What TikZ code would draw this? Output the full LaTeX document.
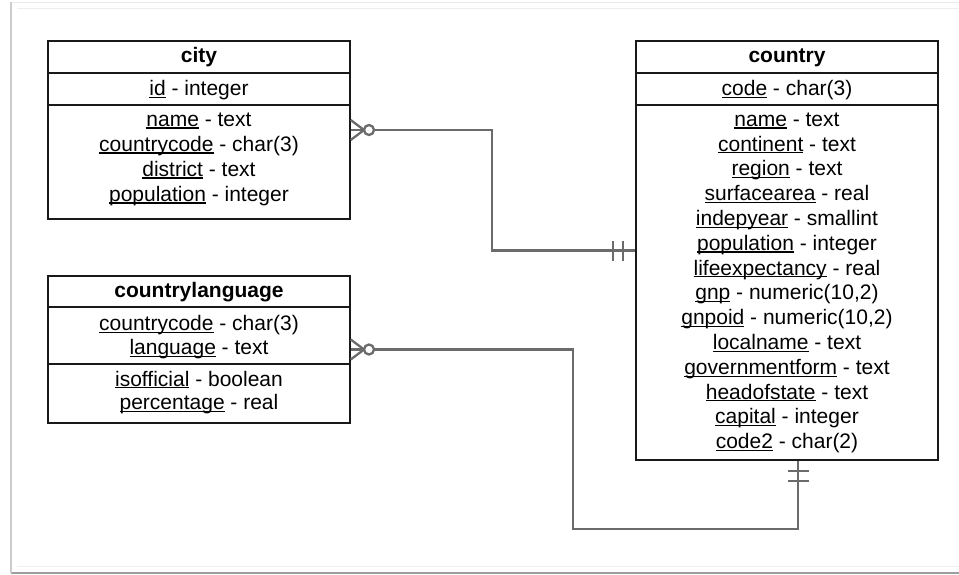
\documentclass[tikz,border=0pt]{standalone}
\usepackage{fontspec}
\setmainfont{Liberation Sans}
\newcommand\ulx[1]{\setbox0\hbox{#1}\rlap{\rule[-2.3pt]{\wd0}{1.1pt}}\box0\relax}
\tikzset{
  tbl/.style={draw=black!90, line width=1.4pt, fill=white, inner sep=0pt, rectangle},
  divl/.style={draw=black!90, line width=1.4pt},
  ttl/.style={anchor=base, inner sep=0pt, font=\fontsize{21}{24.8}\selectfont\bfseries},
  attr/.style={anchor=base, inner sep=0pt, font=\fontsize{21}{24.8}\selectfont},
  conn/.style={draw=black!58, line width=2.3pt},
  frm/.style={line width=1pt}
}
\begin{document}
\begin{tikzpicture}[x=1pt,y=-1pt]
\useasboundingbox (0,0) rectangle (959,575);
% frame
\draw[frm, draw=black!8] (10,2.5) -- (959,2.5);
\draw[frm, draw=black!7] (17,8.5) -- (959,8.5);
\draw[frm, draw=black!6] (17,566) -- (959,566);
\draw[line width=2pt, draw=black!38] (11,572.5) -- (959,572.5);
\draw[line width=1.5pt, draw=black!20] (11,2.5) -- (11,573);

% tables
\node[tbl, minimum width=302, minimum height=178] (city) at (199,130) {};
\node[tbl, minimum width=302, minimum height=147] (lang) at (199,349.5) {};
\node[tbl, minimum width=302, minimum height=419] (country) at (787,250.5) {};

\draw[divl] (city.west |- 0,73) -- (city.east |- 0,73);
\draw[divl] (city.west |- 0,105) -- (city.east |- 0,105);
\draw[divl] (lang.west |- 0,307) -- (lang.east |- 0,307);
\draw[divl] (lang.west |- 0,364) -- (lang.east |- 0,364);
\draw[divl] (country.west |- 0,73) -- (country.east |- 0,73);
\draw[divl] (country.west |- 0,105) -- (country.east |- 0,105);

% city text
\node[ttl] (cityt) at (199,63) {city};
\node[attr] (cityk) at (199,95.5) {\ulx{id} - integer};
\foreach \t [count=\i from 0] in {{\ulx{name} - text},{\ulx{countrycode} - char(3)},{\ulx{district} - text},{\ulx{population} - integer}}
  \node[attr] (citya\i) at (199,{126.3+25*\i}) {\t};

% countrylanguage text
\node[ttl] (langt) at (199,297.5) {countrylanguage};
\node[attr] (langk0) at (199,330.7) {\ulx{countrycode} - char(3)};
\node[attr] (langk1) at (199,354.7) {\ulx{language} - text};
\node[attr] (langa0) at (199,386) {\ulx{isofficial} - boolean};
\node[attr] (langa1) at (199,409.7) {\ulx{percentage} - real};

% country text
\node[ttl] (countryt) at (787,63) {country};
\node[attr] (countryk) at (787,95.5) {\ulx{code} - char(3)};
\foreach \t [count=\i from 0] in {{\ulx{name} - text},{\ulx{continent} - text},{\ulx{region} - text},{\ulx{surfacearea} - real},{\ulx{indepyear} - smallint},{\ulx{population} - integer},{\ulx{lifeexpectancy} - real},{\ulx{gnp} - numeric(10,2)},{\ulx{gnpoid} - numeric(10,2)},{\ulx{localname} - text},{\ulx{governmentform} - text},{\ulx{headofstate} - text},{\ulx{capital} - integer},{\ulx{code2} - char(2)}}
  \node[attr] (countrya\i) at (787,{126.3+24.8*\i}) {\t};

% connector city -> country
\coordinate (k1) at (492,0);
\draw[conn] ([yshift=10]city.east) -- ([xshift=13.3]city.east) -- ([yshift=-10]city.east);
\draw[conn] (city.east) -- ([xshift=13.3]city.east);
\draw[conn, fill=white] ([xshift=18.3]city.east) circle (5);
\draw[conn] ([xshift=23.3]city.east) -| (k1 |- country.west) -- (country.west);
\draw[conn] ([xshift=-22,yshift=10]country.west) -- ([xshift=-22,yshift=-10]country.west);
\draw[conn] ([xshift=-12,yshift=10]country.west) -- ([xshift=-12,yshift=-10]country.west);

% connector countrylanguage -> country
\coordinate (k2) at (573,529);
\draw[conn] ([yshift=10]lang.east) -- ([xshift=13.3]lang.east) -- ([yshift=-10]lang.east);
\draw[conn] (lang.east) -- ([xshift=13.3]lang.east);
\draw[conn, fill=white] ([xshift=18.3]lang.east) circle (5);
\draw[conn] ([xshift=23.3]lang.east) -| (k2) -| ([xshift=11]country.south);
\draw[conn] ([xshift=0.5,yshift=-10]country.south) -- ([xshift=21.5,yshift=-10]country.south);
\draw[conn] ([xshift=0.5,yshift=-20]country.south) -- ([xshift=21.5,yshift=-20]country.south);
\end{tikzpicture}
\end{document}
